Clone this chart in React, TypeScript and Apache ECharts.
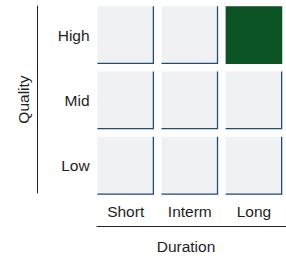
import React, { useEffect, useRef } from "react";
import * as echarts from "echarts";

const durations = ["Short", "Interm", "Long"];
const qualities = ["Low", "Mid", "High"];
// [durationIndex, qualityIndex, highlighted]
const cells: number[][] = [
  [0, 0, 0], [1, 0, 0], [2, 0, 0],
  [0, 1, 0], [1, 1, 0], [2, 1, 0],
  [0, 2, 0], [1, 2, 0], [2, 2, 1],
];

const FONT = "Liberation Sans, Arial, Helvetica, sans-serif";
const FS = 15.5;

export default function App() {
  const ref = useRef<HTMLDivElement>(null);
  useEffect(() => {
    document.body.style.margin = "0";
    const chart = echarts.init(ref.current!, null, { renderer: "svg" });
    const GAP = 7.5;
    chart.setOption({
      animation: false,
      backgroundColor: "#ffffff",
      grid: [
        { left: 93.6, top: 2.4, width: 196.5, height: 196, containLabel: false },
        { left: 97, top: 6, width: 200, height: 188.7, containLabel: false },
      ],
      xAxis: [
        {
          type: "category",
          gridIndex: 0,
          data: durations,
          axisLine: { show: false },
          axisTick: { show: false },
          splitLine: { show: false },
          axisLabel: { color: "#1e1e1e", fontSize: FS, fontFamily: FONT, margin: 5 },
        },
        {
          type: "value",
          gridIndex: 1,
          min: 0,
          max: 1,
          offset: 33,
          axisLine: { show: true, onZero: false, lineStyle: { color: "#222", width: 1 } },
          axisTick: { show: false },
          axisLabel: { show: false },
          splitLine: { show: false },
          name: "Duration",
          nameLocation: "middle",
          nameGap: 12,
          nameTextStyle: { color: "#1e1e1e", fontSize: FS, fontFamily: FONT, padding: [0, 11, 0, 0] },
        },
      ],
      yAxis: [
        {
          type: "category",
          gridIndex: 0,
          data: qualities,
          axisLine: { show: false },
          axisTick: { show: false },
          splitLine: { show: false },
          axisLabel: { color: "#1e1e1e", fontSize: FS, fontFamily: FONT, margin: 4 },
        },
        {
          type: "value",
          gridIndex: 1,
          min: 0,
          max: 1,
          offset: 60,
          axisLine: { show: true, onZero: false, lineStyle: { color: "#222", width: 1 } },
          axisTick: { show: false },
          axisLabel: { show: false },
          splitLine: { show: false },
          name: "Quality",
          nameLocation: "middle",
          nameGap: 6,
          nameRotate: 90,
          nameTextStyle: { color: "#1e1e1e", fontSize: FS, fontFamily: FONT },
        },
      ],
      series: [
        {
          type: "custom",
          xAxisIndex: 0,
          yAxisIndex: 0,
          data: cells,
          renderItem: (params: any, api: any) => {
            const c = api.coord([api.value(0), api.value(1)]);
            const s = api.size([1, 1]);
            const w = s[0] - GAP;
            const h = s[1] - GAP;
            const x = c[0] - w / 2;
            const y = c[1] - h / 2;
            const hi = api.value(2) === 1;
            const children: any[] = [
              {
                type: "rect",
                shape: { x, y, width: w, height: h },
                style: { fill: hi ? "#0b5224" : "#f0f1f3" },
              },
            ];
            if (!hi) {
              children.push({
                type: "polyline",
                shape: { points: [[x + w - 0.6, y], [x + w - 0.6, y + h - 0.6], [x, y + h - 0.6]] },
                style: { stroke: "#264a7b", lineWidth: 1.3, fill: null },
              });
            }
            return { type: "group", children };
          },
        },
      ],
    });
    return () => chart.dispose();
  }, []);
  return <div ref={ref} style={{ width: 286, height: 259 }} />;
}
